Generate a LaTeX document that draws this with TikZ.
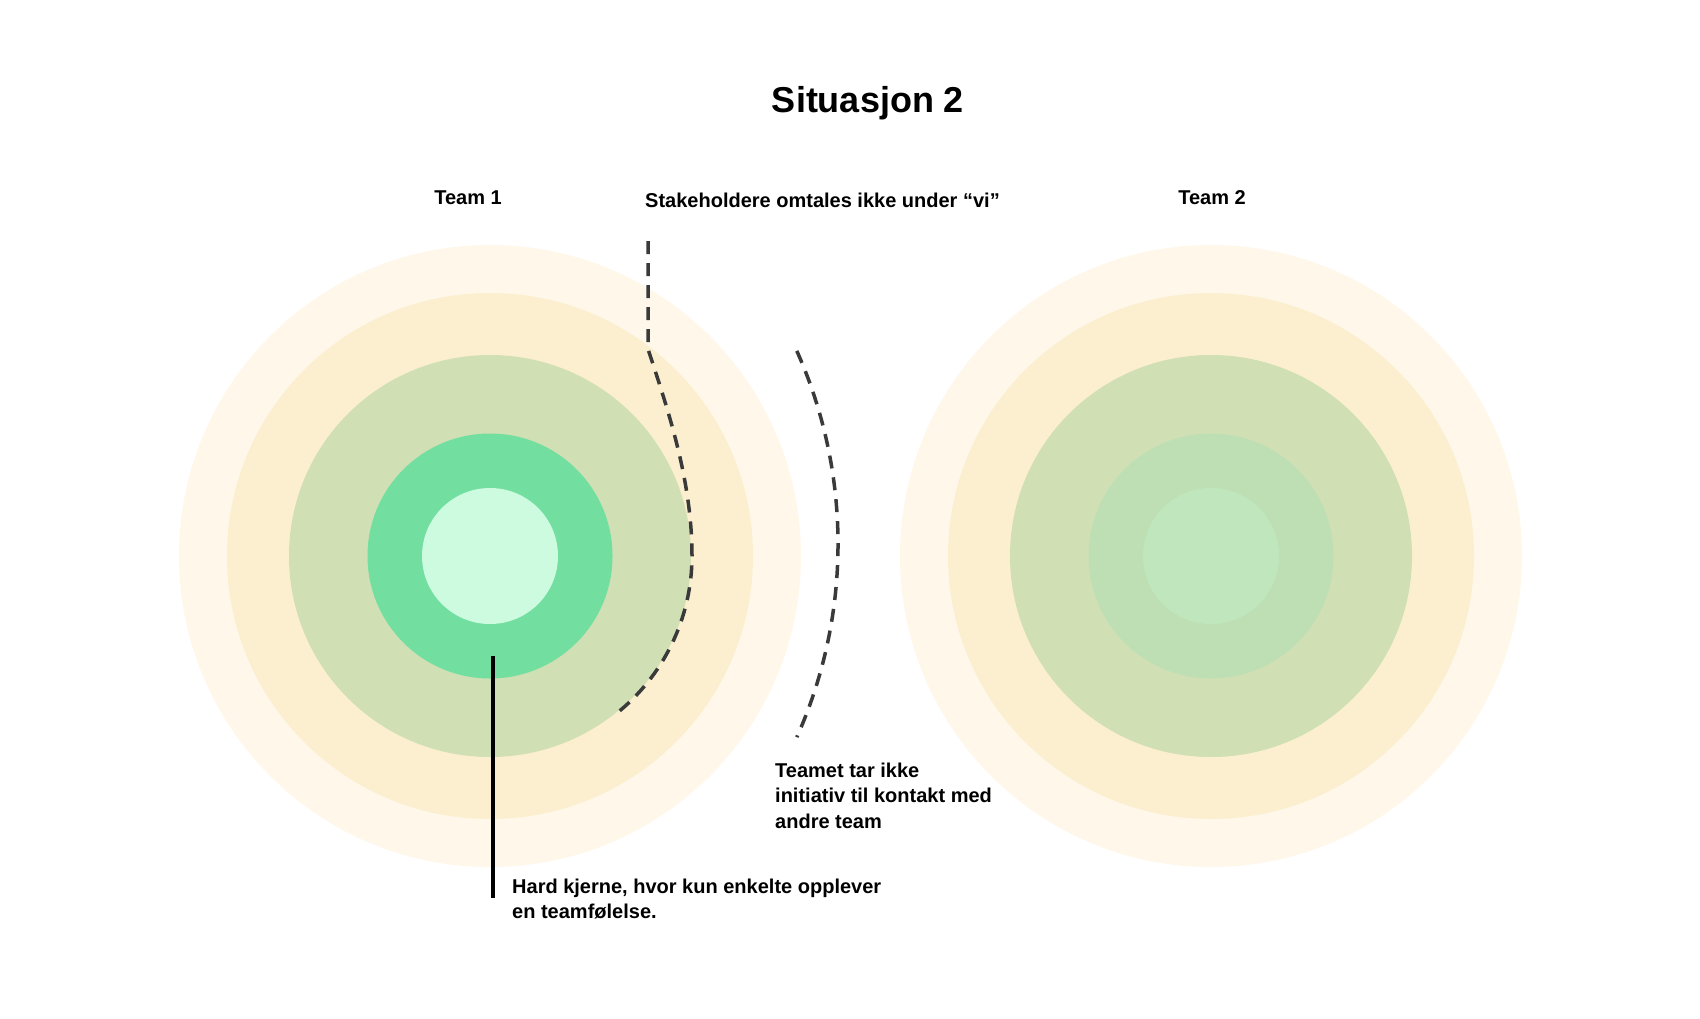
\documentclass[tikz,border=0pt]{standalone}
\usepackage{fontspec}
\setmainfont{Liberation Sans}
\definecolor{ringA}{HTML}{FFF8EA}
\definecolor{ringB}{HTML}{FBEFD0}
\definecolor{ringC}{HTML}{D1DFB5}
\definecolor{coreA}{HTML}{72DE9F}
\definecolor{coreB}{HTML}{CCFBE0}
\definecolor{coreC}{HTML}{BEDFB4}
\definecolor{coreD}{HTML}{C0E6BE}
\definecolor{dashgray}{HTML}{3A3A3A}
\begin{document}
\begin{tikzpicture}[x=1pt,y=-1pt,
  lbl/.style={font=\fontsize{20}{25.2}\selectfont\bfseries, inner sep=0pt, text=black},
  ttl/.style={font=\fontsize{36}{40}\selectfont\bfseries, inner sep=0pt, text=black},
  dashcurve/.style={draw=dashgray, line width=3.5pt, dash pattern=on 13pt off 9pt},
  leader/.style={draw=black, line width=4pt}]
\useasboundingbox (0,0) rectangle (1700,1018);
\fill[white] (0,0) rectangle (1700,1018);
% centres
\coordinate (t1) at (490,556);
\coordinate (t2) at (1211,556);
% Team 1 rings
\fill[ringA] (t1) circle[radius=311];
\fill[ringB] (t1) circle[radius=263];
\fill[ringC] (t1) circle[radius=201];
\fill[coreA] (t1) circle[radius=122.5];
\fill[coreB] (t1) circle[radius=68];
% Team 2 rings
\fill[ringA] (t2) circle[radius=311];
\fill[ringB] (t2) circle[radius=263];
\fill[ringC] (t2) circle[radius=201];
\fill[coreC] (t2) circle[radius=122.5];
\fill[coreD] (t2) circle[radius=68];
% texts
\node[ttl, anchor=base] (title) at (868,112) {Situasjon 2};
\node[lbl, anchor=base] (team1) at (468,204) {Team 1};
\node[lbl, anchor=base] (team2) at (1212,204) {Team 2};
\node[lbl, anchor=base west] (stake) at (645,207) {Stakeholdere omtales ikke under “vi”};
\node[lbl, anchor=north west, align=left] (initiativ) at (775,763) {Teamet tar ikke\\initiativ til kontakt med\\andre team};
\node[lbl, anchor=north west, align=left] (kjerne) at (512,878.5) {Hard kjerne, hvor kun enkelte opplever\\en teamfølelse.};
% dashed boundary 1
\coordinate (d1a) at (648,241);
\coordinate (d1b) at (648,349);
\coordinate (d1c) at (692,556);
\draw[dashcurve] (d1a) -- (d1b) .. controls (668,410) and (692,480) .. (d1c)
  arc[start angle=0, end angle=52, radius=202];
% dashed boundary 2
\coordinate (d2a) at (796.8,350.9);
\draw[dashcurve] (d2a) arc[start angle=-24.1, end angle=24.1, radius=473];
% leader line
\coordinate (hk) at (493,656);
\coordinate (hkend) at (493,898);
\draw[leader] (hk) -- (hkend);
\end{tikzpicture}
\end{document}
